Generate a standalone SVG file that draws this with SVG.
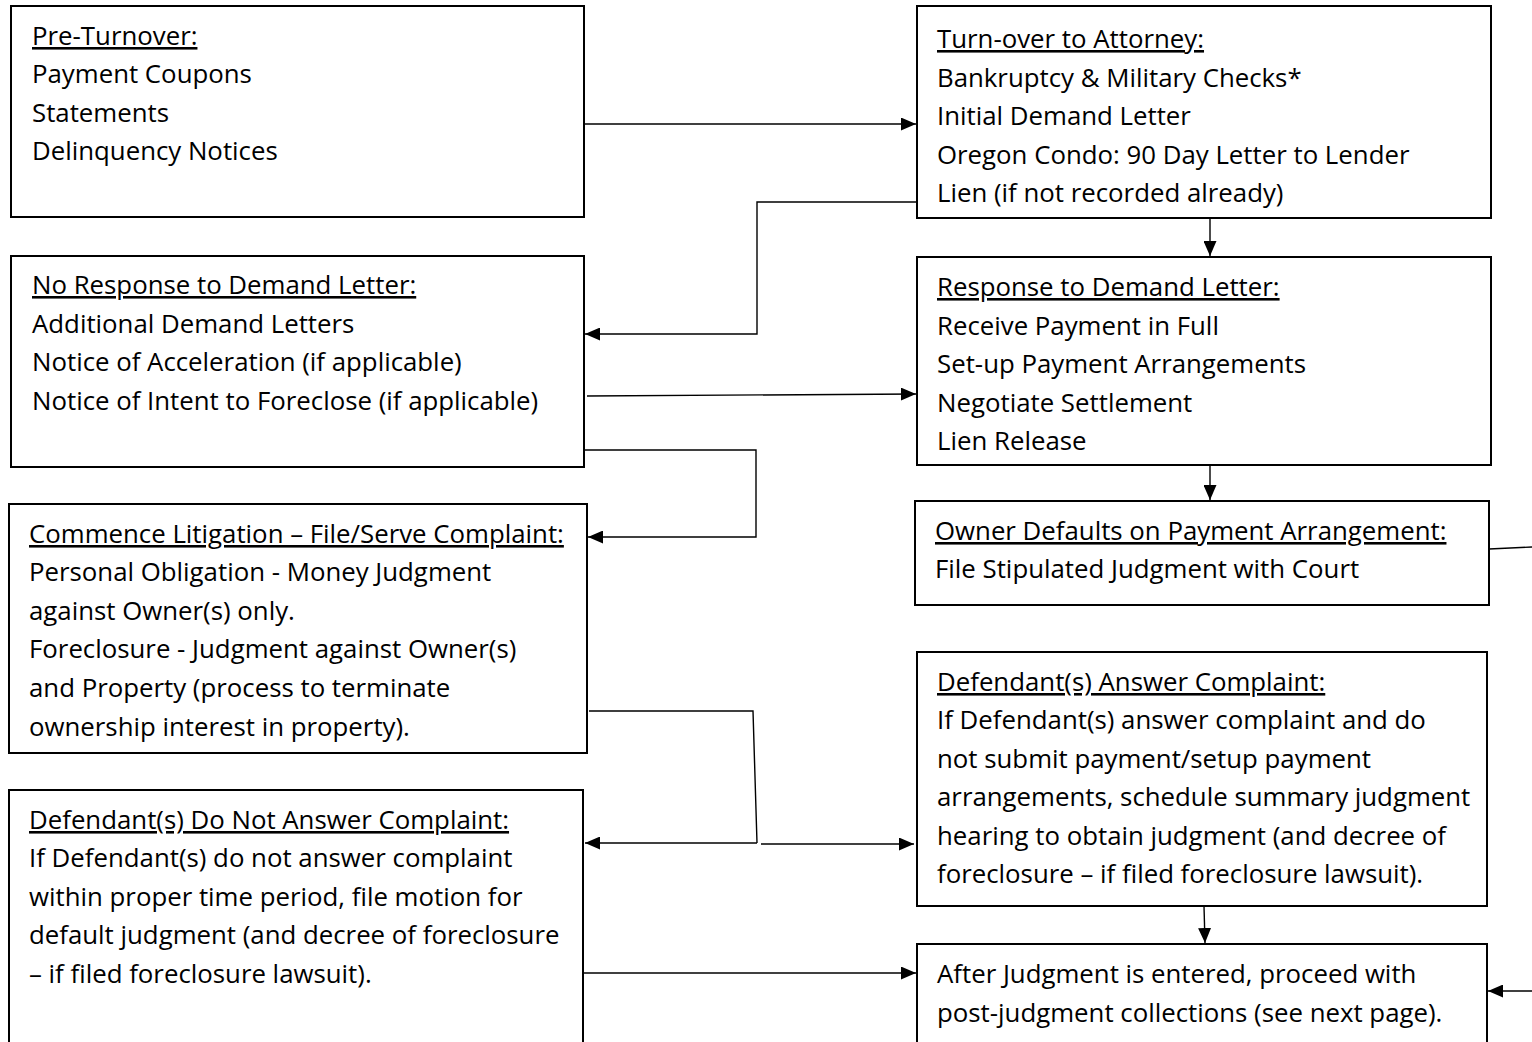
<svg xmlns="http://www.w3.org/2000/svg" width="1532" height="1042" viewBox="0 0 1532 1042">
<style>
.box{fill:#fff;stroke:#000;stroke-width:2}
.t{font-family:"Open Sans","Noto Sans",sans-serif;font-size:25.8px;fill:#000}
.h{text-decoration:underline}
.c{fill:none;stroke:#000;stroke-width:1.4}
</style>
<defs>
<marker id="ah" markerWidth="15" markerHeight="13" refX="15" refY="6.5" orient="auto" markerUnits="userSpaceOnUse">
<path d="M0,0 L15,6.5 L0,13 Z" fill="#000"/>
</marker>
</defs>
<rect width="1532" height="1042" fill="#fff"/>
<g id="pre-turnover">
<rect class="box" x="11" y="6" width="573" height="211"/>
<text class="t h" x="32" y="45">Pre-Turnover:</text>
<text class="t" x="32" y="83">Payment Coupons</text>
<text class="t" x="32" y="122">Statements</text>
<text class="t" x="32" y="160">Delinquency Notices</text>
</g>
<g id="turnover">
<rect class="box" x="917" y="6" width="574" height="212"/>
<text class="t h" x="937" y="48">Turn-over to Attorney:</text>
<text class="t" x="937" y="87">Bankruptcy &amp; Military Checks*</text>
<text class="t" x="937" y="125">Initial Demand Letter</text>
<text class="t" x="937" y="164">Oregon Condo: 90 Day Letter to Lender</text>
<text class="t" x="937" y="202">Lien (if not recorded already)</text>
</g>
<g id="no-response">
<rect class="box" x="11" y="256" width="573" height="211"/>
<text class="t h" x="32" y="294">No Response to Demand Letter:</text>
<text class="t" x="32" y="333">Additional Demand Letters</text>
<text class="t" x="32" y="371">Notice of Acceleration (if applicable)</text>
<text class="t" x="32" y="410">Notice of Intent to Foreclose (if applicable)</text>
</g>
<g id="response">
<rect class="box" x="917" y="257" width="574" height="208"/>
<text class="t h" x="937" y="296">Response to Demand Letter:</text>
<text class="t" x="937" y="335">Receive Payment in Full</text>
<text class="t" x="937" y="373">Set-up Payment Arrangements</text>
<text class="t" x="937" y="412">Negotiate Settlement</text>
<text class="t" x="937" y="450">Lien Release</text>
</g>
<g id="owner-defaults">
<rect class="box" x="915" y="501" width="574" height="104"/>
<text class="t h" x="935" y="540">Owner Defaults on Payment Arrangement:</text>
<text class="t" x="935" y="578">File Stipulated Judgment with Court</text>
</g>
<g id="litigation">
<rect class="box" x="9" y="504" width="578" height="249"/>
<text class="t h" x="29" y="543">Commence Litigation – File/Serve Complaint:</text>
<text class="t" x="29" y="581">Personal Obligation - Money Judgment</text>
<text class="t" x="29" y="620">against Owner(s) only.</text>
<text class="t" x="29" y="658">Foreclosure - Judgment against Owner(s)</text>
<text class="t" x="29" y="697">and Property (process to terminate</text>
<text class="t" x="29" y="736">ownership interest in property).</text>
</g>
<g id="answer">
<rect class="box" x="917" y="652" width="570" height="254"/>
<text class="t h" x="937" y="691">Defendant(s) Answer Complaint:</text>
<text class="t" x="937" y="729">If Defendant(s) answer complaint and do</text>
<text class="t" x="937" y="768">not submit payment/setup payment</text>
<text class="t" x="937" y="806">arrangements, schedule summary judgment</text>
<text class="t" x="937" y="845">hearing to obtain judgment (and decree of</text>
<text class="t" x="937" y="883">foreclosure – if filed foreclosure lawsuit).</text>
</g>
<g id="no-answer">
<rect class="box" x="9" y="790" width="574" height="260"/>
<text class="t h" x="29" y="829">Defendant(s) Do Not Answer Complaint:</text>
<text class="t" x="29" y="867">If Defendant(s) do not answer complaint</text>
<text class="t" x="29" y="906">within proper time period, file motion for</text>
<text class="t" x="29" y="944">default judgment (and decree of foreclosure</text>
<text class="t" x="29" y="983">– if filed foreclosure lawsuit).</text>
</g>
<g id="after-judgment">
<rect class="box" x="917" y="944" width="570" height="110"/>
<text class="t" x="937" y="983">After Judgment is entered, proceed with</text>
<text class="t" x="937" y="1022">post-judgment collections (see next page).</text>
</g>
<g id="connectors">
<path class="c" d="M584,124 L916,124" marker-end="url(#ah)"/>
<path class="c" d="M917,202 L757,202 L757,334 L585,334" marker-end="url(#ah)"/>
<path class="c" d="M587,396 L916,394" marker-end="url(#ah)"/>
<path class="c" d="M584,450 L756,450 L756,537 L588,537" marker-end="url(#ah)"/>
<path class="c" d="M589,711 L753,711 L757,843"/>
<path class="c" d="M757,843 L585,843" marker-end="url(#ah)"/>
<path class="c" d="M761,844 L914,844" marker-end="url(#ah)"/>
<path class="c" d="M584,973 L916,973" marker-end="url(#ah)"/>
<path class="c" d="M1210,218 L1210,256" marker-end="url(#ah)"/>
<path class="c" d="M1210,465 L1210,500" marker-end="url(#ah)"/>
<path class="c" d="M1204,906 L1205,943" marker-end="url(#ah)"/>
<path class="c" d="M1489,549 L1532,547"/>
<path class="c" d="M1532,991 L1488,991" marker-end="url(#ah)"/>
</g>
</svg>
